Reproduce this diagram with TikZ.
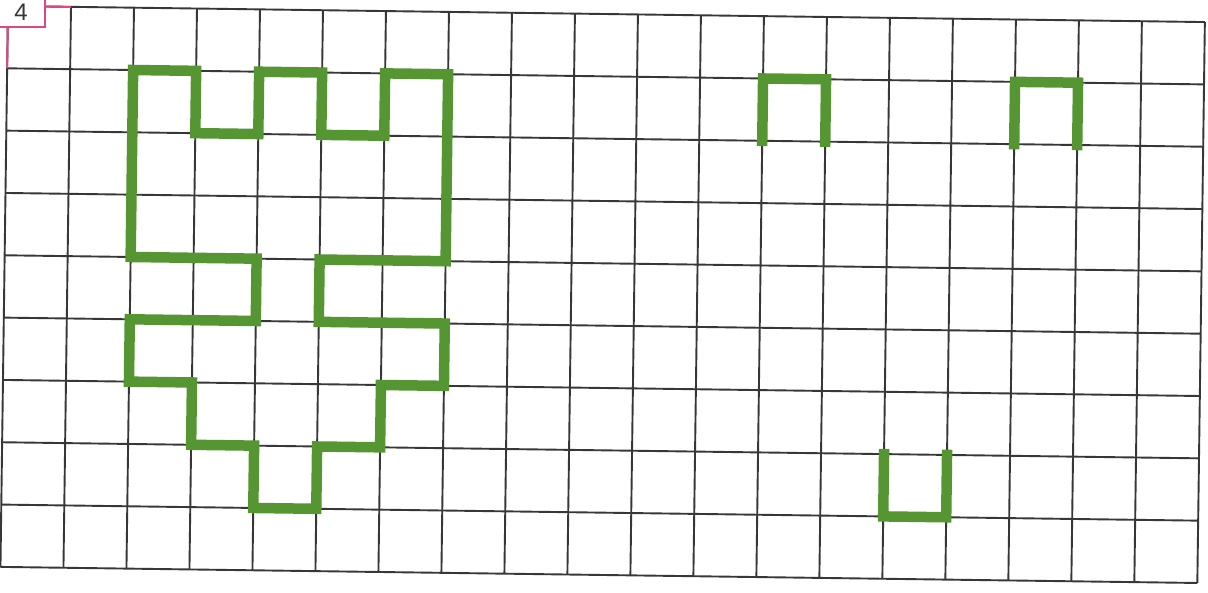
\documentclass[tikz,border=0pt]{standalone}
\usepackage{fontspec}
\newfontfamily\labelfont{Liberation Sans}
\definecolor{gridc}{RGB}{55,55,55}
\definecolor{shapec}{RGB}{86,150,50}
\definecolor{pinkc}{RGB}{222,70,135}
\tikzset{
  gridline/.style={draw=gridc, line width=1.9pt},
  greenline/.style={draw=shapec, line width=10.5pt, line cap=rect, line join=miter},
  pinkline/.style={draw=pinkc, line width=2pt},
}
\begin{document}
\begin{tikzpicture}[x=1pt,y=-1pt]
\useasboundingbox (0,0) rectangle (1208,593);
\fill[white] (0,0) rectangle (1208,593);
\begin{scope}[shift={(8,6)}, rotate=-0.77, x=63pt, y=-62.33pt]
  \foreach \i in {0,...,19} \draw[gridline] (\i,0) -- (\i,9);
  \foreach \j in {0,...,9} \draw[gridline] (0,\j) -- (19,\j);
  \draw[pinkline] (0.55,0) -- (1,0);
  \draw[pinkline] (0,0.3) -- (0,1);
  % castle
  \draw[greenline] (2,1) -- (3,1) -- (3,2) -- (4,2) -- (4,1) -- (5,1) -- (5,2) -- (6,2) -- (6,1) -- (7,1) -- (7,4) -- (5,4) -- (5,5) -- (7,5) -- (7,6) -- (6,6) -- (6,7) -- (5,7) -- (5,8) -- (4,8) -- (4,7) -- (3,7) -- (3,6) -- (2,6) -- (2,5) -- (4,5) -- (4,4) -- (2,4) -- cycle;
  % fragments
  \draw[greenline] (12,2) -- (12,1) -- (13,1) -- (13,2);
  \draw[greenline] (16,2) -- (16,1) -- (17,1) -- (17,2);
  \draw[greenline] (14,7) -- (14,8) -- (15,8) -- (15,7);
\end{scope}
\draw[pinkline, fill=white] (-3,-3) rectangle (45,27);
\node[text=gridc, font=\labelfont\fontsize{24}{24}\selectfont, inner sep=0pt] (label) at (21,12) {4};
\end{tikzpicture}
\end{document}
